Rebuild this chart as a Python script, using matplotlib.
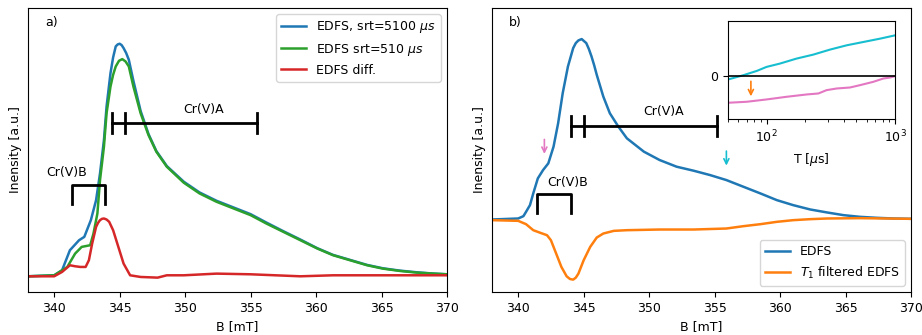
import numpy as np
import matplotlib
matplotlib.use("Agg")
import matplotlib.pyplot as plt

# panel a) field sweep spectra, heights in arbitrary units
b_a_blue = [338, 340, 340.6, 341.2, 341.9, 342.3, 342.8, 343.2, 343.5, 343.8, 344.0, 344.3,
            344.5, 344.7, 344.85, 345.0, 345.15, 345.3, 345.5, 345.7, 346.05, 346.6, 347.2,
            347.8, 348.6, 349.9, 351.1, 352.4, 353.7, 355.0, 356.2, 357.5, 358.8, 360.1,
            361.3, 362.6, 363.9, 365.1, 366.4, 367.7, 369.0, 370]
h_a_blue = [0, 3, 18, 78, 108, 118, 168, 228, 308, 408, 508, 608,
            655, 688, 694, 696, 692, 683, 668, 648, 585, 495, 426,
            375, 330, 283, 251, 226, 206, 186, 161, 135, 110, 84,
            64, 49, 34, 24, 17, 12, 8, 6]

b_a_green = [338, 340, 341.0, 341.6, 342.1, 342.75, 343.0, 343.3, 343.5, 343.8, 344.0, 344.3,
             344.5, 344.7, 344.95, 345.2, 345.45, 345.7, 346.05, 346.6, 347.2, 347.8, 348.6,
             349.9, 351.1, 352.4, 353.7, 355.0, 356.2, 357.5, 358.8, 360.1, 361.3, 362.6,
             363.9, 365.1, 366.4, 367.7, 369.0, 370]
h_a_green = [0, 3, 28, 68, 88, 93, 128, 188, 288, 388, 488, 568,
             603, 628, 645, 650, 643, 628, 568, 488, 423, 373, 328,
             280, 248, 223, 203, 183, 158, 133, 108, 83, 63, 48,
             33, 23, 16, 11, 8, 6]

b_a_red = [338, 340, 340.6, 341.2, 341.6, 342.0, 342.4, 342.65, 342.9, 343.2, 343.35, 343.5,
           343.65, 343.8, 344.0, 344.2, 344.5, 344.9, 345.3, 345.8, 346.6, 347.9, 348.6,
           349.9, 352.4, 355.0, 358.8, 361.3, 370]
h_a_red = [0, 0, 13, 33, 30, 28, 28, 48, 98, 148, 160, 168,
           172, 173, 170, 163, 138, 88, 38, 3, -2, -4, 3,
           3, 8, 6, 0, 3, 3]

# panel b) EDFS and T1 filtered EDFS
b_b_edfs = [338, 340, 340.4, 340.6, 340.9, 341.15, 341.5, 341.9, 342.3, 342.7, 343.05, 343.4,
            343.8, 344.2, 344.4, 344.6, 344.85, 345.2, 345.4, 345.6, 345.8, 346.0, 346.5,
            347.0, 347.65, 348.3, 349.6, 350.8, 352.1, 353.4, 354.65, 355.9, 357.2, 358.5,
            359.75, 361.0, 362.3, 363.6, 364.85, 366.1, 367.4, 368.7, 370]
h_b_edfs = [0, 3, 10, 23, 43, 78, 123, 148, 168, 218, 288, 378,
            458, 513, 528, 536, 540, 528, 510, 488, 462, 433, 368,
            318, 278, 243, 203, 178, 158, 146, 133, 118, 98, 78,
            58, 43, 30, 21, 13, 8, 5, 3, 2]

b_b_filt = [338, 340, 340.6, 341.15, 341.7, 342.2, 342.5, 342.9, 343.3, 343.7, 343.95, 344.2,
            344.4, 344.6, 345.0, 345.5, 346.0, 346.5, 347.3, 348.3, 350.8, 353.4, 355.9,
            357.2, 358.5, 359.75, 361.0, 362.3, 363.6, 366.1, 370]
h_b_filt = [-2, -4, -14, -32, -40, -47, -62, -102, -142, -170, -178, -180,
            -174, -162, -122, -82, -54, -42, -34, -32, -30, -30, -27,
            -20, -14, -7, -2, 1, 3, 4, 2]

# inset: T1 traces
t_cyan = [50, 66, 84, 100, 127, 171, 231, 311, 420, 566, 763, 1000]
v_cyan = [-10, 3, 16, 28, 38, 53, 65, 80, 93, 103, 113, 123]
t_pink = [50, 70, 100, 143, 205, 253, 293, 351, 446, 533, 676, 810, 912, 1000]
v_pink = [-80, -77, -70, -62, -55, -52, -42, -37, -34, -27, -17, -7, -4, 0]

plt.rcParams['font.size'] = 9

fig = plt.figure(figsize=(9.22, 3.35), dpi=100)
ax_a = fig.add_axes([28/922, 43/335, 419/922, 284/335])
ax_b = fig.add_axes([492/922, 43/335, 419/922, 284/335])


def bracket_a(ax, x0, x1, xm, y, half):
    # horizontal bar with end ticks (Cr(V)A style)
    ax.plot([x0, x1], [y, y], color='k', lw=2)
    for xx in (x0, xm, x1):
        ax.plot([xx, xx], [y - half, y + half], color='k', lw=2)


def bracket_b(ax, x0, x1, ytop, ybot):
    ax.plot([x0, x0, x1, x1], [ybot, ytop, ytop, ybot], color='k', lw=2)


# ---- panel a
ax_a.plot(b_a_blue, h_a_blue, color='tab:blue', lw=1.8, label=r'EDFS, srt=5100 $\mu s$')
ax_a.plot(b_a_green, h_a_green, color='tab:green', lw=1.8, label=r'EDFS srt=510 $\mu s$')
ax_a.plot(b_a_red, h_a_red, color='tab:red', lw=1.8, label='EDFS diff.')
bracket_a(ax_a, 344.4, 355.47, 345.37, 458, 30)
ax_a.text(351.4, 500, 'Cr(V)A', ha='center', va='center')
bracket_b(ax_a, 341.35, 343.9, 273, 216)
ax_a.text(340.97, 310, 'Cr(V)B', ha='center', va='center')
ax_a.text(0.04, 0.95, 'a)', transform=ax_a.transAxes, va='center')
ax_a.set_xlim(338, 370)
ax_a.set_ylim(-47, 803)
ax_a.set_yticks([])
ax_a.set_xlabel('B [mT]')
ax_a.set_ylabel('Inensity [a.u.]')
ax_a.legend(loc='upper right')

# ---- panel b
ax_b.plot(b_b_edfs, h_b_edfs, color='tab:blue', lw=1.8, label='EDFS')
ax_b.plot(b_b_filt, h_b_filt, color='tab:orange', lw=1.8, label=r'$T_1$ filtered EDFS')
bracket_a(ax_b, 344.03, 355.17, 345.02, 280, 31)
ax_b.text(351.1, 322, 'Cr(V)A', ha='center', va='center')
bracket_b(ax_b, 341.45, 344.0, 75, 18)
ax_b.text(343.8, 112, 'Cr(V)B', ha='center', va='center')
ax_b.annotate('', xy=(342.0, 188), xytext=(342.0, 248),
              arrowprops=dict(arrowstyle='->', color='tab:pink', lw=1.2))
ax_b.annotate('', xy=(355.9, 153), xytext=(355.9, 213),
              arrowprops=dict(arrowstyle='->', color='tab:cyan', lw=1.2))
ax_b.text(0.04, 0.95, 'b)', transform=ax_b.transAxes, va='center')
ax_b.set_xlim(338, 370)
ax_b.set_ylim(-217, 633)
ax_b.set_yticks([])
ax_b.set_xlabel('B [mT]')
ax_b.set_ylabel('Inensity [a.u.]')
ax_b.legend(loc='lower right')

# ---- inset
ins = ax_b.inset_axes([0.563, 0.609, 0.399, 0.345])
ins.plot(t_cyan, v_cyan, color='tab:cyan', lw=1.5)
ins.plot(t_pink, v_pink, color='tab:pink', lw=1.5)
ins.axhline(0, color='k', lw=1.2)
ins.annotate('', xy=(75.5, -69), xytext=(75.5, -7),
             arrowprops=dict(arrowstyle='->', color='tab:orange', lw=1.2))
ins.set_xscale('log')
ins.set_xlim(50, 1000)
ins.set_ylim(-129, 166)
ins.set_yticks([0])
ins.set_xlabel(r'T [$\mu$s]')

fig.savefig('out.png', dpi=100)
